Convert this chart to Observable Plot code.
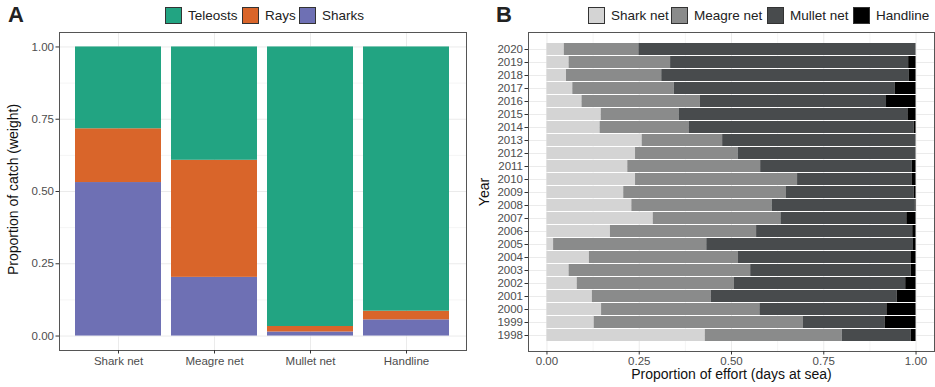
<!DOCTYPE html>
<html><head><meta charset="utf-8">
<script src="https://cdn.jsdelivr.net/npm/d3@7"></script>
<script src="https://cdn.jsdelivr.net/npm/@observablehq/plot@0.6"></script>
<style>
body{margin:0;background:#fff;}
#wrap{position:relative;width:935px;height:387px;overflow:hidden;font-family:"Liberation Sans",Arial,sans-serif;}
.panel{position:absolute;top:0;}
.tag{position:absolute;top:2px;font-weight:bold;font-size:22px;color:#222;font-family:"Liberation Sans",Arial,sans-serif;}
.lg{position:absolute;top:7px;height:17px;display:flex;align-items:center;font-size:13.5px;color:#222;white-space:nowrap;}
.sw{width:17px;height:17px;box-sizing:border-box;border:1px solid #333;margin-right:6px;}
</style></head>
<body><div id="wrap"></div>
<script>
// ---- Panel A data ----
const gears = ["Shark net", "Meagre net", "Mullet net", "Handline"];
const catchGroups = ["Sharks", "Rays", "Teleosts"]; // bottom to top
const sharksCatch = [0.531, 0.203, 0.014, 0.056];
const raysCatch = [0.186, 0.405, 0.019, 0.030];
const teleostsCatch = [0.283, 0.392, 0.967, 0.914];
const catchLegend = ["Teleosts", "Rays", "Sharks"];
const catchColors = ["#22a482", "#d9652a", "#6e70b4"];
const yTicksA = [0, 0.25, 0.5, 0.75, 1];
const yMinorA = [0.125, 0.375, 0.625, 0.875];

// ---- Panel B data ----
const years = ["2020","2019","2018","2017","2016","2015","2014","2013","2012","2011","2010","2009","2008","2007","2006","2005","2004","2003","2002","2001","2000","1999","1998"];
const sharkNet  = [0.047,0.060,0.053,0.070,0.095,0.147,0.144,0.258,0.240,0.219,0.240,0.208,0.230,0.288,0.172,0.018,0.115,0.060,0.082,0.123,0.148,0.128,0.429];
const meagreNet = [0.202,0.275,0.258,0.275,0.320,0.211,0.241,0.218,0.278,0.360,0.439,0.441,0.380,0.346,0.396,0.415,0.404,0.492,0.426,0.322,0.429,0.567,0.371];
const mulletNet = [0.751,0.645,0.671,0.599,0.505,0.620,0.610,0.524,0.482,0.411,0.310,0.346,0.388,0.341,0.423,0.560,0.467,0.435,0.464,0.504,0.344,0.221,0.187];
const handline  = [0.000,0.020,0.018,0.056,0.080,0.022,0.005,0.000,0.000,0.010,0.011,0.005,0.002,0.025,0.009,0.007,0.014,0.013,0.028,0.051,0.079,0.084,0.013];
const effortGears = ["Shark net", "Meagre net", "Mullet net", "Handline"];
const effortColors = ["#d4d4d4", "#8a8b8b", "#484b4d", "#000000"];
const xTicksB = [0, 0.25, 0.5, 0.75, 1];
const xMinorB = [0.125, 0.375, 0.625, 0.875];

const catchSeries = {Sharks: sharksCatch, Rays: raysCatch, Teleosts: teleostsCatch};
const catchData = [];
for (const g of catchGroups) gears.forEach((gear, i) => catchData.push({gear, group: g, value: catchSeries[g][i]}));

const effortSeries = [sharkNet, meagreNet, mulletNet, handline];
const effortData = [];
effortGears.forEach((g, k) => years.forEach((y, i) => effortData.push({year: y, gear: g, value: effortSeries[k][i]})));

const tickCol = "#333", labCol = "#4d4d4d", gridMaj = "#ebebeb", gridMin = "#f5f5f5", frameCol = "#555";
const fontStyle = {fontFamily: "'Liberation Sans', Arial, sans-serif", fontSize: "11.5px", background: "transparent", overflow: "visible"};

const plotA = Plot.plot({
  width: 470, height: 387, marginTop: 32, marginBottom: 37, marginLeft: 59, marginRight: 4,
  style: fontStyle,
  x: {type: "band", domain: gears, paddingInner: 0.1, paddingOuter: 0.15, label: null},
  y: {domain: [-0.05, 1.05], label: null},
  color: {domain: catchLegend, range: catchColors},
  marks: [
    Plot.ruleY(yMinorA, {stroke: gridMin}),
    Plot.ruleY(yTicksA, {stroke: gridMaj}),
    Plot.ruleX(gears, {x: d => d, stroke: gridMaj}),
    Plot.barY(catchData, {x: "gear", y: "value", fill: "group"}),
    Plot.frame({stroke: frameCol}),
    Plot.axisY({ticks: yTicksA, tickFormat: d3.format(".2f"), tickSize: 3.5, tickPadding: 2, stroke: tickCol, fill: labCol, label: null}),
    Plot.axisX({tickSize: 3.5, tickPadding: 3, stroke: tickCol, fill: labCol, label: null}),
    Plot.text(["Proportion of catch (weight)"], {frameAnchor: "left", dx: -46, dy: -2, rotate: -90, textAnchor: "middle", lineAnchor: "middle", fontSize: 14, fill: "#111"})
  ]
});

const plotB = Plot.plot({
  width: 465, height: 387, marginTop: 32, marginBottom: 36, marginLeft: 58, marginRight: 1,
  style: fontStyle,
  x: {domain: [-0.05, 1.05], label: null},
  y: {type: "band", domain: years, paddingInner: 0.1, paddingOuter: 0.15, label: null},
  color: {domain: effortGears, range: effortColors},
  marks: [
    Plot.ruleX(xMinorB, {stroke: gridMin}),
    Plot.ruleX(xTicksB, {stroke: gridMaj}),
    Plot.ruleY(years, {y: d => d, stroke: gridMaj}),
    Plot.barX(effortData, {y: "year", x: "value", fill: "gear"}),
    Plot.frame({stroke: frameCol}),
    Plot.axisX({ticks: xTicksB, tickFormat: d3.format(".2f"), tickSize: 3.5, tickPadding: 2, stroke: tickCol, fill: labCol, label: null}),
    Plot.axisY({tickSize: 3.5, tickPadding: 2, stroke: tickCol, fill: labCol, label: null}),
    Plot.text(["Proportion of effort (days at sea)"], {frameAnchor: "bottom", dy: 27, fontSize: 14, fill: "#111"}),
    Plot.text(["Year"], {frameAnchor: "left", dx: -44, rotate: -90, textAnchor: "middle", lineAnchor: "middle", fontSize: 14, fill: "#111"})
  ]
});

const wrap = document.getElementById("wrap");
const pa = document.createElement("div"); pa.className = "panel"; pa.style.left = "0px"; pa.appendChild(plotA); wrap.appendChild(pa);
const pb = document.createElement("div"); pb.className = "panel"; pb.style.left = "470px"; pb.appendChild(plotB); wrap.appendChild(pb);

function tag(t, x) { const d = document.createElement("div"); d.className = "tag"; d.textContent = t; d.style.left = x + "px"; wrap.appendChild(d); }
tag("A", 8); tag("B", 496);

function legendItem(label, color, x) {
  const d = document.createElement("div"); d.className = "lg"; d.style.left = x + "px";
  const s = document.createElement("div"); s.className = "sw"; s.style.background = color;
  d.appendChild(s); d.appendChild(document.createTextNode(label)); wrap.appendChild(d);
}
const legAx = [165, 242, 299];
catchLegend.forEach((g, i) => legendItem(g, catchColors[i], legAx[i]));
const legBx = [588, 671, 767, 853];
effortGears.forEach((g, i) => legendItem(g, effortColors[i], legBx[i]));
</script>
</body></html>
